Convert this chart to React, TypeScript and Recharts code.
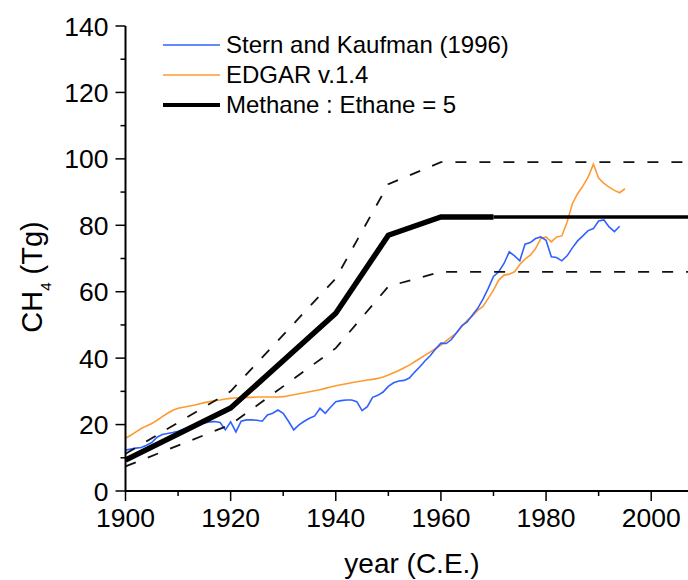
import { LineChart, Line, XAxis, YAxis, Legend } from 'recharts';

// Stern and Kaufman (1996), annual, 1900-1994
const SK_START = 1900;
const sternKaufman = [
  12.3, 12.6, 12.9, 13.1, 13.8, 14.6, 16.2, 17.0, 17.3, 17.6,
  18.0, 18.6, 19.2, 19.7, 20.1, 20.5, 20.8, 20.9, 20.6, 18.4,
  20.8, 17.8, 21.0, 21.4, 21.4, 21.3, 21.0, 22.9, 23.4, 24.4,
  23.4, 21.0, 18.4, 19.9, 21.0, 21.9, 22.6, 24.9, 23.4, 25.2,
  26.9, 27.2, 27.4, 27.4, 26.9, 24.2, 25.4, 28.2, 28.8, 29.8,
  31.5, 32.6, 33.1, 33.3, 34.0, 35.8, 37.4, 39.2, 40.8, 42.8,
  44.5, 44.4, 45.6, 47.7, 49.8, 50.9, 53.0, 55.0, 57.8, 61.0,
  64.6, 66.0, 68.5, 72.0, 70.8, 69.3, 74.3, 74.8, 76.0, 76.5,
  75.5, 70.5, 70.3, 69.3, 70.8, 73.2, 75.3, 76.8, 78.4, 79.0,
  81.3, 81.6, 79.5, 78.1, 79.7,
];

// EDGAR v.1.4, annual, 1900-1995
const EDGAR_START = 1900;
const edgar = [
  15.9, 16.8, 17.8, 18.8, 19.6, 20.3, 21.3, 22.4, 23.4, 24.3,
  24.9, 25.2, 25.5, 25.8, 26.2, 26.6, 26.9, 27.2, 27.4, 27.7,
  27.9, 28.0, 28.1, 28.2, 28.2, 28.3, 28.3, 28.3, 28.3, 28.3,
  28.4, 28.7, 29.0, 29.3, 29.6, 29.9, 30.2, 30.5, 30.9, 31.3,
  31.7, 32.0, 32.3, 32.6, 32.9, 33.1, 33.4, 33.6, 33.9, 34.3,
  34.9, 35.6, 36.3, 37.1, 37.9, 38.9, 39.9, 40.9, 41.9, 42.9,
  43.9, 45.2, 46.4, 47.6, 49.5, 51.4, 52.7, 54.4, 55.6, 58.0,
  60.5, 63.5, 65.0, 65.3, 66.0, 68.2, 69.8, 71.0, 73.0, 76.0,
  76.5, 75.0, 76.5, 76.8, 81.0, 86.5, 89.5, 91.8, 94.5, 98.4,
  94.2, 92.6, 91.5, 90.5, 89.8, 91.0,
];

// Methane : Ethane = 5 (thick to 1970, thinner after)
const ratioYears = [1900, 1920, 1940, 1950, 1960, 1970];
const ratioValues = [9.3, 25, 53.5, 77, 82.5, 82.5];
const ratioTailYears = [1970, 2007];
const ratioTailValues = [82.5, 82.5];

// dashed envelope
const boundYears = [1900, 1920, 1940, 1950, 1960, 2007];
const upperValues = [11.2, 30, 64, 92.4, 99, 99];
const lowerValues = [7.4, 20, 43, 61.6, 66, 66];

const xTicks = [1900, 1910, 1920, 1930, 1940, 1950, 1960, 1970, 1980, 1990, 2000];
const yTicks = [0, 10, 20, 30, 40, 50, 60, 70, 80, 90, 100, 110, 120, 130, 140];

const skData = sternKaufman.map((v, i) => ({ year: SK_START + i, v }));
const edgarData = edgar.map((v, i) => ({ year: EDGAR_START + i, v }));
const ratioData = ratioYears.map((year, i) => ({ year, v: ratioValues[i] }));
const ratioTail = ratioTailYears.map((year, i) => ({ year, v: ratioTailValues[i] }));
const upperData = boundYears.map((year, i) => ({ year, v: upperValues[i] }));
const lowerData = boundYears.map((year, i) => ({ year, v: lowerValues[i] }));

const FONT = '"Liberation Sans", Arial, Helvetica, sans-serif';
const BLUE = '#3160ff';
const ORANGE = '#ff9a30';

const YTick = (props: any) => {
  const { x, y, payload } = props;
  const major = payload.value % 20 === 0;
  return (
    <g>
      <line x1={x} x2={x - (major ? 10 : 5)} y1={y} y2={y} stroke="#000" strokeWidth={1.5} />
      {major && (
        <text x={x - 17} y={y} dy={9.5} textAnchor="end" fontSize={26.5} fontFamily={FONT} fill="#000">
          {payload.value}
        </text>
      )}
    </g>
  );
};

const XTick = (props: any) => {
  const { x, y, payload } = props;
  const major = payload.value % 20 === 0;
  return (
    <g>
      <line x1={x} x2={x} y1={y} y2={y + (major ? 10 : 5)} stroke="#000" strokeWidth={1.5} />
      {major && (
        <text x={x} y={y + 36} textAnchor="middle" fontSize={26.5} fontFamily={FONT} fill="#000">
          {payload.value}
        </text>
      )}
    </g>
  );
};

const legendRows = [
  { name: 'Stern and Kaufman (1996)', color: BLUE, w: 1.6 },
  { name: 'EDGAR v.1.4', color: ORANGE, w: 1.6 },
  { name: 'Methane : Ethane = 5', color: '#000', w: 4 },
];

const LegendBox = () => (
  <div style={{ fontFamily: FONT, fontSize: 24, color: '#000' }}>
    {legendRows.map((r) => (
      <div key={r.name} style={{ display: 'flex', alignItems: 'center', height: 30, lineHeight: '30px', whiteSpace: 'nowrap' }}>
        <svg width={57} height={30} style={{ display: 'block' }}>
          <line x1={0} x2={57} y1={15} y2={15} stroke={r.color} strokeWidth={r.w} />
        </svg>
        <span style={{ marginLeft: 6 }}>{r.name}</span>
      </div>
    ))}
  </div>
);

export default function App() {
  return (
    <div style={{ position: 'absolute', left: 0, top: 0, width: 688, height: 580, background: '#fff', fontFamily: FONT }}>
      <LineChart width={688} height={580} margin={{ top: 26, right: 0, bottom: 49, left: 45.5 }}>
        <XAxis
          type="number"
          dataKey="year"
          domain={[1900, 2007]}
          ticks={xTicks}
          interval={0}
          allowDataOverflow
          height={40}
          tickSize={0}
          tickMargin={0}
          tickLine={false}
          axisLine={{ stroke: '#000', strokeWidth: 2 }}
          tick={<XTick />}
          label={{
            content: () => (
              <text x={412} y={573} textAnchor="middle" fontSize={28} fontFamily={FONT} fill="#000">
                year (C.E.)
              </text>
            ),
          }}
        />
        <YAxis
          type="number"
          domain={[0, 140]}
          ticks={yTicks}
          interval={0}
          allowDataOverflow
          width={80}
          tickSize={0}
          tickMargin={0}
          tickLine={false}
          axisLine={{ stroke: '#000', strokeWidth: 2 }}
          tick={<YTick />}
          label={{
            content: () => (
              <text x={42} y={277} transform="rotate(-90 42 277)" textAnchor="middle" fontSize={29} fontFamily={FONT} fill="#000">
                CH<tspan fontSize={15} dy={9}>4</tspan>
                <tspan dy={-9}> (Tg)</tspan>
              </text>
            ),
          }}
        />
        <Legend
          layout="vertical"
          align="center"
          verticalAlign="middle"
          content={<LegendBox />}
          wrapperStyle={{ left: 163, top: 30, width: 380, height: 90 }}
        />
        <Line data={edgarData} dataKey="v" name="EDGAR v.1.4" stroke={ORANGE} strokeWidth={1.6} dot={false} isAnimationActive={false} />
        <Line data={skData} dataKey="v" name="Stern and Kaufman (1996)" stroke={BLUE} strokeWidth={1.6} dot={false} isAnimationActive={false} />
        <Line data={ratioTail} dataKey="v" name="tail" legendType="none" stroke="#000" strokeWidth={3.5} dot={false} isAnimationActive={false} />
        <Line data={ratioData} dataKey="v" name="Methane : Ethane = 5" stroke="#000" strokeWidth={5.5} strokeLinejoin="miter" dot={false} isAnimationActive={false} />
        <Line data={upperData} dataKey="v" name="upper" legendType="none" stroke="#111" strokeWidth={1.8} strokeDasharray="11 13" dot={false} isAnimationActive={false} />
        <Line data={lowerData} dataKey="v" name="lower" legendType="none" stroke="#111" strokeWidth={1.8} strokeDasharray="11 13" dot={false} isAnimationActive={false} />
      </LineChart>
    </div>
  );
}
